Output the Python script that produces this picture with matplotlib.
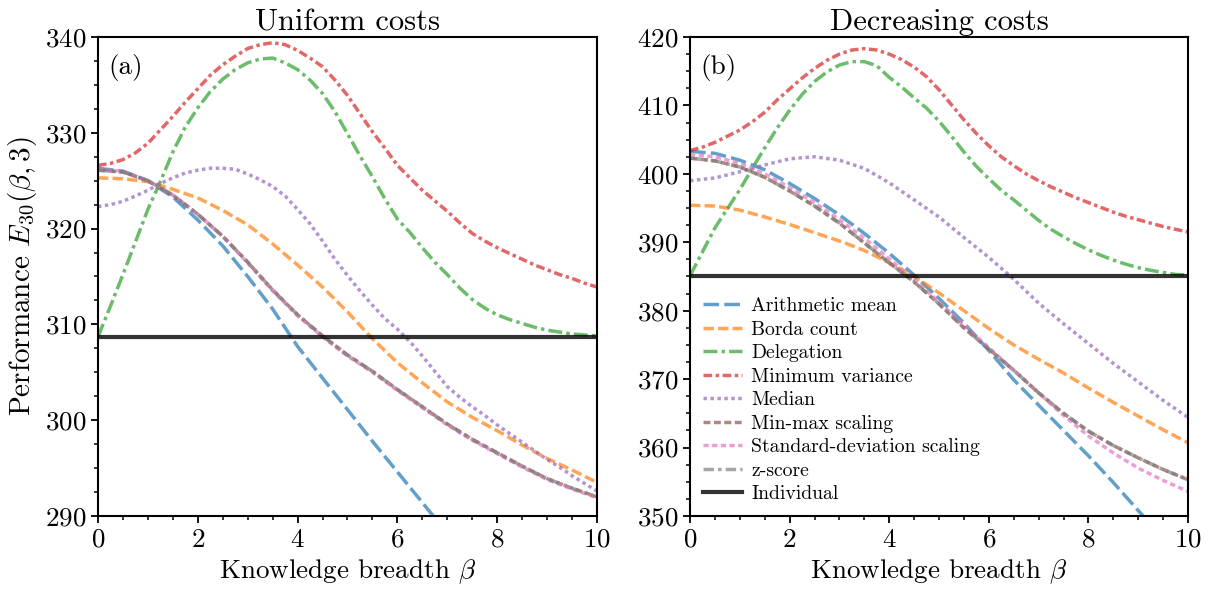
import numpy as np
import matplotlib
matplotlib.use("Agg")
import matplotlib.pyplot as plt
from matplotlib.ticker import MultipleLocator

plt.rcParams["font.family"] = ["cmr10", "DejaVu Serif"]
plt.rcParams["mathtext.fontset"] = "cm"
plt.rcParams["axes.formatter.use_mathtext"] = True
plt.rcParams["axes.unicode_minus"] = False

beta = [0, 0.5, 1, 1.5, 2, 2.5, 3, 3.5, 4, 4.5, 5, 5.5, 6, 6.5, 7, 7.5, 8, 8.5, 9, 9.5, 10]
beta_fine = [0, 0.25, 0.5, 0.75, 1, 1.25, 1.5, 1.75, 2, 2.25, 2.5, 2.75, 3, 3.25, 3.5, 3.75, 4, 4.25, 4.5, 4.75,
             5, 5.25, 5.5, 5.75, 6, 6.25, 6.5, 6.75, 7, 7.25, 7.5, 7.75, 8, 8.25, 8.5, 8.75, 9, 9.25, 9.5, 9.75, 10]

# (a) uniform costs
mean_a = [326.3, 326.0, 325.0, 323.3, 320.9, 318.2, 315.0, 311.6, 307.7, 304.4, 301.1, 297.8, 294.6, 291.4, 288.2,
          285.2, 282.4, 279.6, 276.9, 274.2, 271.6]
borda_a = [325.3, 325.2, 324.9, 324.1, 323.2, 321.9, 320.4, 318.4, 316.2, 313.9, 311.3, 308.5, 306.0, 303.9, 301.9,
           300.3, 298.9, 297.4, 296.0, 294.8, 293.5]
deleg_a = [308.7, 311.9, 315.2, 318.6, 322.0, 324.9, 328.0, 330.6, 332.6, 334.3, 335.6, 336.6, 337.3, 337.7, 337.8,
           337.3, 336.6, 335.5, 334.1, 332.2, 329.9, 327.6, 325.4, 323.1, 321.0, 319.6, 318.0, 316.5, 315.2, 313.8,
           312.6, 311.7, 311.0, 310.5, 310.1, 309.7, 309.4, 309.2, 309.0, 308.9, 308.8]
minvar_a = [326.6, 326.8, 327.2, 327.9, 328.9, 330.3, 331.7, 333.2, 334.6, 336.0, 337.1, 338.0, 338.8, 339.2, 339.4,
            339.2, 338.6, 337.8, 336.9, 335.5, 333.9, 332.0, 330.1, 328.4, 326.6, 325.3, 324.0, 322.9, 321.8, 320.6,
            319.5, 318.7, 318.0, 317.4, 316.8, 316.2, 315.7, 315.2, 314.8, 314.3, 313.9]
median_a = [322.3, 322.5, 322.85, 323.4, 324.0, 324.7, 325.3, 325.8, 326.1, 326.3, 326.3, 326.2, 325.7, 325.1, 324.4,
            323.4, 322.0, 320.5, 318.7, 316.8, 315.1, 313.5, 312.0, 310.6, 309.5, 308.2, 306.7, 305.1, 303.5, 302.4,
            301.4, 300.5, 299.5, 298.6, 297.7, 296.8, 295.9, 295.1, 294.2, 293.4, 292.6]
minmax_a = [326.1, 325.9, 325.0, 323.5, 321.5, 319.2, 316.5, 313.6, 311.0, 308.8, 306.8, 305.1, 303.2, 301.4, 299.6,
            298.0, 296.6, 295.2, 293.9, 292.9, 292.0]
sd_a = [326.2, 326.0, 325.0, 323.5, 321.5, 319.2, 316.4, 313.5, 310.9, 308.7, 306.7, 305.0, 303.1, 301.3, 299.5,
        297.9, 296.5, 295.1, 293.8, 292.8, 291.9]
zscore_a = [326.1, 325.9, 325.0, 323.5, 321.5, 319.2, 316.5, 313.6, 311.0, 308.8, 306.8, 305.1, 303.2, 301.4, 299.6,
            298.0, 296.6, 295.2, 293.9, 292.9, 292.0]
indiv_a = 308.7

# (b) decreasing costs
mean_b = [403.3, 403.0, 402.0, 400.6, 398.6, 396.4, 394.0, 391.3, 388.4, 385.2, 381.8, 378.2, 374.2, 369.9, 366.2,
          362.5, 358.8, 354.9, 350.8, 346.8, 342.8]
borda_b = [395.4, 395.3, 394.7, 393.7, 392.6, 391.4, 390.2, 388.8, 387.0, 385.0, 382.6, 380.0, 377.4, 375.0, 372.9,
           370.9, 368.7, 366.6, 364.6, 362.6, 360.7]
deleg_b = [385.1, 388.6, 392.1, 394.9, 397.7, 400.8, 403.8, 406.7, 409.3, 411.6, 413.5, 414.9, 415.9, 416.4, 416.4,
           415.8, 414.1, 412.7, 411.1, 409.6, 407.7, 405.5, 403.2, 401.1, 399.3, 397.6, 396.2, 394.7, 393.2, 391.9,
           390.8, 389.8, 388.9, 388.1, 387.4, 386.8, 386.3, 385.9, 385.6, 385.3, 385.2]
minvar_b = [403.4, 403.9, 404.6, 405.5, 406.4, 407.6, 409.0, 410.8, 412.4, 414.0, 415.4, 416.6, 417.5, 418.1, 418.3,
            418.1, 417.5, 416.7, 415.6, 414.2, 412.3, 410.1, 407.9, 405.9, 404.1, 402.5, 401.2, 400.0, 399.0, 398.1,
            397.3, 396.5, 395.8, 395.1, 394.4, 393.8, 393.3, 392.8, 392.3, 391.9, 391.5]
median_b = [399.0, 399.4, 400.3, 401.3, 402.2, 402.5, 402.0, 400.8, 398.7, 396.2, 393.7, 390.7, 387.8, 384.6, 381.1,
            378.1, 375.2, 372.3, 369.6, 366.9, 364.4]
minmax_b = [402.3, 401.9, 401.0, 399.5, 397.5, 395.3, 392.8, 389.9, 387.0, 384.2, 381.0, 377.5, 374.4, 371.3, 368.0,
            365.0, 362.4, 360.3, 358.5, 356.8, 355.3]
sd_b = [402.8, 402.5, 401.5, 400.0, 398.0, 395.8, 393.3, 390.6, 387.6, 384.5, 381.3, 377.9, 374.6, 371.3, 368.0,
        364.7, 361.7, 359.2, 357.0, 355.2, 353.6]
zscore_b = [402.3, 401.9, 401.0, 399.5, 397.5, 395.3, 392.8, 389.9, 387.0, 384.2, 381.0, 377.5, 374.4, 371.3, 368.0,
            365.0, 362.4, 360.3, 358.5, 356.8, 355.3]
indiv_b = 385.1

labels = ["Arithmetic mean", "Borda count", "Delegation", "Minimum variance", "Median",
          "Min-max scaling", "Standard-deviation scaling", "z-score", "Individual"]
colors = ["tab:blue", "tab:orange", "tab:green", "tab:red", "tab:purple", "tab:brown", "tab:pink", "tab:gray"]
dashes = [(4.5, 1.5), (3, 1.2), (4, 1.2, 1, 1.2), (2.5, 1, 1, 1), (1, 1), (2, 1), (1.5, 1), (3, 1.2, 1, 1.2)]

fig = plt.figure(figsize=(12.11, 5.92), dpi=100)
ax1 = fig.add_axes([0.0809, 0.1284, 0.4121, 0.8091])
ax2 = fig.add_axes([0.5698, 0.1284, 0.4112, 0.8091])

panels = [
    (ax1, [mean_a, borda_a, deleg_a, minvar_a, median_a, minmax_a, sd_a, zscore_a], indiv_a, (290, 340), "Uniform costs", "(a)"),
    (ax2, [mean_b, borda_b, deleg_b, minvar_b, median_b, minmax_b, sd_b, zscore_b], indiv_b, (350, 420), "Decreasing costs", "(b)"),
]

for ax, series, indiv, ylim, title, tag in panels:
    for vals, lab, c, d in zip(series, labels, colors, dashes):
        xs = beta_fine if len(vals) == len(beta_fine) else beta
        ax.plot(xs, vals, color=c, alpha=0.7, lw=2.5, dashes=d, label=lab)
    ax.axhline(indiv, color="black", alpha=0.8, lw=3, label=labels[-1])
    ax.set_xlim(0, 10)
    ax.set_ylim(*ylim)
    ax.xaxis.set_major_locator(MultipleLocator(2))
    ax.xaxis.set_minor_locator(MultipleLocator(0.5))
    ax.yaxis.set_major_locator(MultipleLocator(10))
    ax.yaxis.set_minor_locator(MultipleLocator(2.5))
    ax.tick_params(which="major", length=5, width=1.3, labelsize=19.5)
    ax.tick_params(which="minor", length=2.8, width=1.1)
    for sp in ax.spines.values():
        sp.set_linewidth(1.5)
    ax.set_title(title, fontsize=22, pad=5)
    ax.set_xlabel(r"Knowledge breadth $\beta$", fontsize=19.5)
    ax.text(0.02, 0.965, tag, transform=ax.transAxes, fontsize=19.5, va="top", ha="left")

ax1.set_ylabel(r"Performance $E_{30}(\beta, 3)$", fontsize=21)
ax2.legend(loc="lower left", frameon=False, fontsize=14.2, handlelength=2.0, handletextpad=0.45,
           labelspacing=0.28, borderaxespad=0.25)

fig.savefig("out.png", dpi=100)
